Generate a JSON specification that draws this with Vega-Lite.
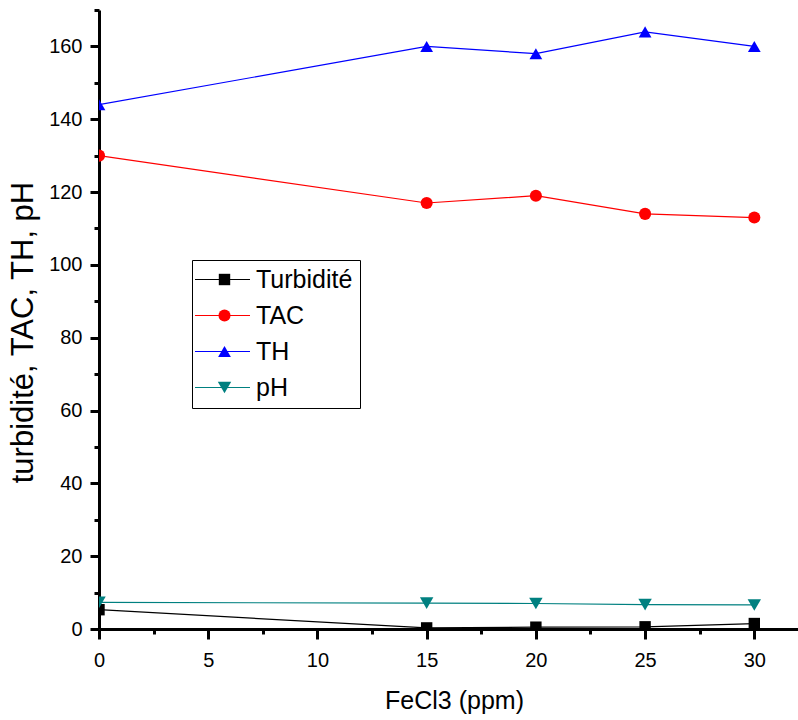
{
  "$schema": "https://vega.github.io/schema/vega-lite/v6.json",
  "width": 699,
  "height": 619,
  "autosize": {"type": "none"},
  "padding": {"left": 99, "top": 10, "right": 0, "bottom": 91},
  "config": {"view": {"stroke": null}, "font": "Liberation Sans"},
  "data": {
    "values": [
      {"FeCl3": 0, "series": "Turbidité", "name": "Turbidité", "value": 5.3},
      {"FeCl3": 15, "series": "Turbidité", "name": "Turbidité", "value": 0.3},
      {"FeCl3": 20, "series": "Turbidité", "name": "Turbidité", "value": 0.5},
      {"FeCl3": 25, "series": "Turbidité", "name": "Turbidité", "value": 0.6},
      {"FeCl3": 30, "series": "Turbidité", "name": "Turbidité", "value": 1.5},
      {"FeCl3": 0, "series": "TAC", "name": "TAC", "value": 130},
      {"FeCl3": 15, "series": "TAC", "name": "TAC", "value": 117},
      {"FeCl3": 20, "series": "TAC", "name": "TAC", "value": 119},
      {"FeCl3": 25, "series": "TAC", "name": "TAC", "value": 114},
      {"FeCl3": 30, "series": "TAC", "name": "TAC", "value": 113},
      {"FeCl3": 0, "series": "TH", "name": "TH", "value": 144},
      {"FeCl3": 15, "series": "TH", "name": "TH", "value": 160},
      {"FeCl3": 20, "series": "TH", "name": "TH", "value": 158},
      {"FeCl3": 25, "series": "TH", "name": "TH", "value": 164},
      {"FeCl3": 30, "series": "TH", "name": "TH", "value": 160},
      {"FeCl3": 0, "series": "pH", "name": "pH", "value": 7.3},
      {"FeCl3": 15, "series": "pH", "name": "pH", "value": 7.1},
      {"FeCl3": 20, "series": "pH", "name": "pH", "value": 7.0},
      {"FeCl3": 25, "series": "pH", "name": "pH", "value": 6.7},
      {"FeCl3": 30, "series": "pH", "name": "pH", "value": 6.6}
    ]
  },
  "encoding": {
    "x": {
      "field": "FeCl3",
      "type": "quantitative",
      "scale": {"domain": [0, 32], "nice": false, "zero": false},
      "axis": {
        "title": "FeCl3 (ppm)",
        "titleFontSize": 25,
        "titleFontWeight": "normal",
        "titlePadding": 18,
        "titleX": 355,
        "titleColor": "black",
        "values": [0, 2.5, 5, 7.5, 10, 12.5, 15, 17.5, 20, 22.5, 25, 27.5, 30],
        "labelExpr": "datum.value % 5 === 0 ? datum.label : ''",
        "labelFontSize": 20,
        "labelColor": "black",
        "labelPadding": 11,
        "labelFlush": false,
        "tickSize": {"condition": {"test": "datum.value % 5 === 0", "value": 10}, "value": 5},
        "tickWidth": 3,
        "tickColor": "black",
        "domainWidth": 3,
        "domainColor": "black",
        "grid": false
      }
    },
    "y": {
      "field": "value",
      "type": "quantitative",
      "scale": {"domain": [0, 170], "nice": false},
      "axis": {
        "title": "turbidité, TAC, TH, pH",
        "titleFontSize": 31,
        "titleFontWeight": "normal",
        "titleColor": "black",
        "titlePadding": 9,
        "titleY": 322,
        "values": [0, 10, 20, 30, 40, 50, 60, 70, 80, 90, 100, 110, 120, 130, 140, 150, 160, 170],
        "labelExpr": "datum.value % 20 === 0 ? datum.label : ''",
        "labelFontSize": 20,
        "labelColor": "black",
        "labelPadding": 8,
        "labelFlush": false,
        "tickSize": {"condition": {"test": "datum.value % 20 === 0", "value": 9}, "value": 5},
        "tickWidth": 3,
        "tickColor": "black",
        "domainWidth": 3,
        "domainColor": "black",
        "grid": false
      }
    }
  },
  "layer": [
    {
      "mark": {"type": "line", "strokeWidth": 1.2, "clip": true},
      "encoding": {
        "stroke": {
          "field": "series",
          "type": "nominal",
          "sort": ["Turbidité", "TAC", "TH", "pH"],
          "scale": {"range": ["#000000", "#ff0000", "#0000ff", "#008080"]},
          "legend": {
            "title": null,
            "orient": "none",
            "legendX": 93,
            "legendY": 250,
            "strokeColor": null,
            "fillColor": null,
            "padding": 7,
            "labelFontSize": 25,
            "labelExpr": "'​'",
            "labelOpacity": 0,
            "symbolType": "M-3,0H3",
            "symbolSize": 336,
            "symbolStrokeWidth": 1.2,
            "rowPadding": 10,
            "labelOffset": 19,
            "symbolOffset": 11
          }
        }
      }
    },
    {
      "mark": {"type": "point", "filled": true, "opacity": 1, "clip": true},
      "encoding": {
        "fill": {
          "field": "name",
          "type": "nominal",
          "scale": {"domain": ["Turbidité", "TAC", "TH", "pH"], "range": ["#000000", "#ff0000", "#0000ff", "#008080"]},
          "legend": {
            "title": null,
            "orient": "none",
            "legendX": 93,
            "legendY": 250,
            "strokeColor": "black",
            "fillColor": null,
            "padding": 7,
            "labelFontSize": 25,
            "labelColor": "black",
            "symbolOpacity": 1,
            "rowPadding": 10,
            "labelOffset": 19,
            "symbolOffset": 13
          }
        },
        "shape": {
          "field": "name",
          "type": "nominal",
          "scale": {"domain": ["Turbidité", "TAC", "TH", "pH"], "range": ["square", "circle", "triangle-up", "triangle-down"]},
          "legend": {
            "title": null,
            "orient": "none",
            "legendX": 93,
            "legendY": 250,
            "strokeColor": "black",
            "fillColor": null,
            "padding": 7,
            "labelFontSize": 25,
            "labelColor": "black",
            "symbolOpacity": 1,
            "rowPadding": 10,
            "labelOffset": 19,
            "symbolOffset": 13
          }
        },
        "size": {
          "field": "name",
          "type": "nominal",
          "scale": {"domain": ["Turbidité", "TAC", "TH", "pH"], "range": [130, 180, 240, 240]},
          "legend": {
            "title": null,
            "orient": "none",
            "legendX": 93,
            "legendY": 250,
            "strokeColor": "black",
            "fillColor": null,
            "padding": 7,
            "labelFontSize": 25,
            "labelColor": "black",
            "symbolOpacity": 1,
            "rowPadding": 10,
            "labelOffset": 19,
            "symbolOffset": 13
          }
        }
      }
    },
    {
      "data": {"values": [{}]},
      "mark": {"type": "rule", "strokeWidth": 2, "color": "black"},
      "encoding": {"y": {"datum": 170}}
    }
  ]
}
